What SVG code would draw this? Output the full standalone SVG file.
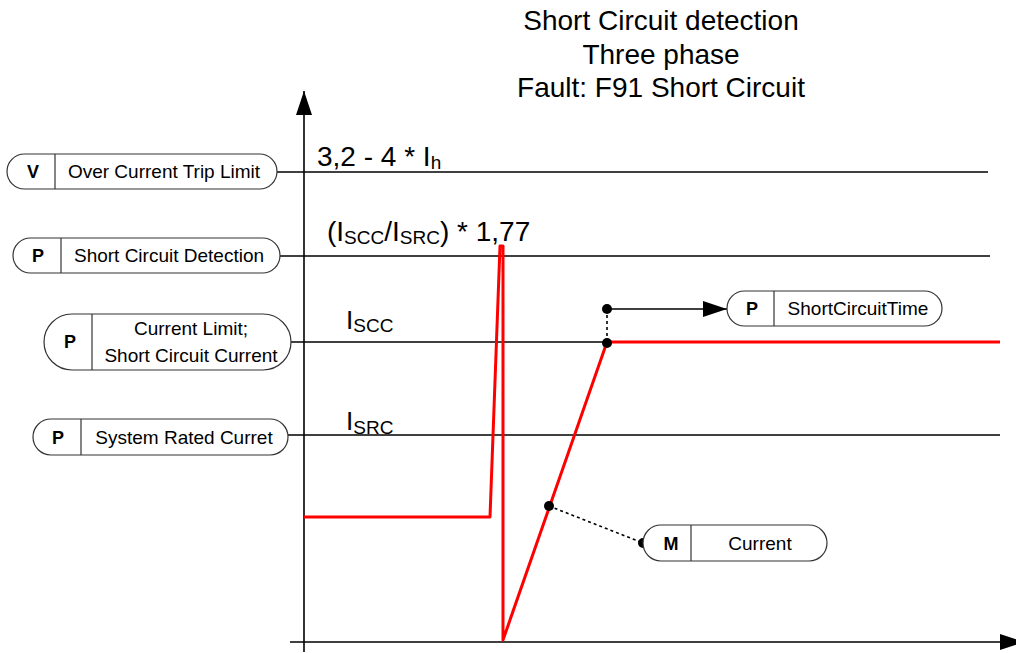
<svg xmlns="http://www.w3.org/2000/svg" width="1016" height="653" viewBox="0 0 1016 653">
<style>
  text { font-family: "Liberation Sans", Arial, sans-serif; fill: #000; }
  .title { font-size: 28px; text-anchor: middle; }
  .lbl { font-size: 28px; }
  .lbl2 { font-size: 26px; }
  .sub { font-size: 19px; }
  .pill { fill: #fff; stroke: #333; stroke-width: 1.2; }
  .div { stroke: #333; stroke-width: 1.2; }
  .tag { font-size: 18px; font-weight: bold; text-anchor: middle; }
  .ntxt { font-size: 19px; text-anchor: middle; }
  .ln { stroke: #000; stroke-width: 1.6; fill: none; }
  .dot { stroke: #000; stroke-width: 1.6; stroke-dasharray: 3 3; fill: none; }
</style>
<defs>
  <marker id="ah" markerWidth="24" markerHeight="16" refX="24" refY="8" orient="auto" markerUnits="userSpaceOnUse">
    <path d="M0,0 L24,8 L0,16 Z" fill="#000"/>
  </marker>
</defs>
<rect width="1016" height="653" fill="#fff"/>

<g id="title">
  <text class="title" x="661" y="30">Short Circuit detection</text>
  <text class="title" x="661" y="64">Three phase</text>
  <text class="title" x="661" y="97">Fault: F91 Short Circuit</text>
</g>

<g id="connectors">
  <line class="ln" x1="304" y1="652" x2="304" y2="91" marker-end="url(#ah)"/>
  <line class="ln" x1="290" y1="642" x2="1024" y2="642" marker-end="url(#ah)"/>
  <line class="ln" x1="277" y1="172" x2="988" y2="172"/>
  <line class="ln" x1="280" y1="256" x2="990" y2="256"/>
  <line class="ln" x1="291" y1="342" x2="1000" y2="342"/>
  <line class="ln" x1="288" y1="435" x2="1000" y2="435"/>
  <polyline points="304,517 490,517 500,246 503,246 503,640 607,342 1000,342" fill="none" stroke="#ff0000" stroke-width="3" stroke-linejoin="round"/>
  <line class="ln" x1="607" y1="309" x2="727" y2="309" marker-end="url(#ah)"/>
  <line class="dot" x1="607" y1="309" x2="607" y2="342"/>
  <line class="dot" x1="549" y1="506" x2="643" y2="543"/>
  <circle cx="607" cy="309" r="5" fill="#000"/>
  <circle cx="607" cy="343" r="5" fill="#000"/>
  <circle cx="549" cy="506" r="5" fill="#000"/>
  <circle cx="643" cy="543" r="5" fill="#000"/>
</g>

<g id="labels">
  <text class="lbl" x="317" y="166">3,2 - 4 * I<tspan class="sub" dy="3">h</tspan></text>
  <text class="lbl" x="327" y="241">(I<tspan class="sub" dy="3">SCC</tspan><tspan dy="-3">/I</tspan><tspan class="sub" dy="3">SRC</tspan><tspan dy="-3">) * 1,77</tspan></text>
  <text class="lbl2" x="346" y="329">I<tspan class="sub" dy="3">SCC</tspan></text>
  <text class="lbl2" x="346" y="430">I<tspan class="sub" dy="4">SRC</tspan></text>
</g>

<g id="node-over-current-trip-limit">
  <rect class="pill" x="7" y="154" width="270" height="35" rx="17.5"/>
  <line class="div" x1="55" y1="154" x2="55" y2="189"/>
  <text class="tag" x="33" y="178">V</text>
  <text class="ntxt" x="164" y="178">Over Current Trip Limit</text>
</g>

<g id="node-short-circuit-detection">
  <rect class="pill" x="13" y="238" width="267" height="35" rx="17.5"/>
  <line class="div" x1="61" y1="238" x2="61" y2="273"/>
  <text class="tag" x="38" y="262">P</text>
  <text class="ntxt" x="169" y="262">Short Circuit Detection</text>
</g>

<g id="node-current-limit">
  <rect class="pill" x="44" y="314" width="247" height="56" rx="28"/>
  <line class="div" x1="92" y1="314" x2="92" y2="370"/>
  <text class="tag" x="70" y="348">P</text>
  <text class="ntxt" x="191" y="335">Current Limit;</text>
  <text class="ntxt" x="191" y="362">Short Circuit Current</text>
</g>

<g id="node-system-rated-current">
  <rect class="pill" x="33" y="419" width="255" height="36" rx="18"/>
  <line class="div" x1="81" y1="419" x2="81" y2="455"/>
  <text class="tag" x="58" y="444">P</text>
  <text class="ntxt" x="184" y="444">System Rated Curret</text>
</g>

<g id="node-short-circuit-time">
  <rect class="pill" x="727" y="291" width="215" height="35" rx="17.5"/>
  <line class="div" x1="774" y1="291" x2="774" y2="326"/>
  <text class="tag" x="752" y="315">P</text>
  <text class="ntxt" x="858" y="315">ShortCircuitTime</text>
</g>

<g id="node-current">
  <rect class="pill" x="643" y="525" width="184" height="36" rx="18"/>
  <line class="div" x1="691" y1="525" x2="691" y2="561"/>
  <text class="tag" x="671" y="550">M</text>
  <text class="ntxt" x="760" y="550">Current</text>
</g>
</svg>
